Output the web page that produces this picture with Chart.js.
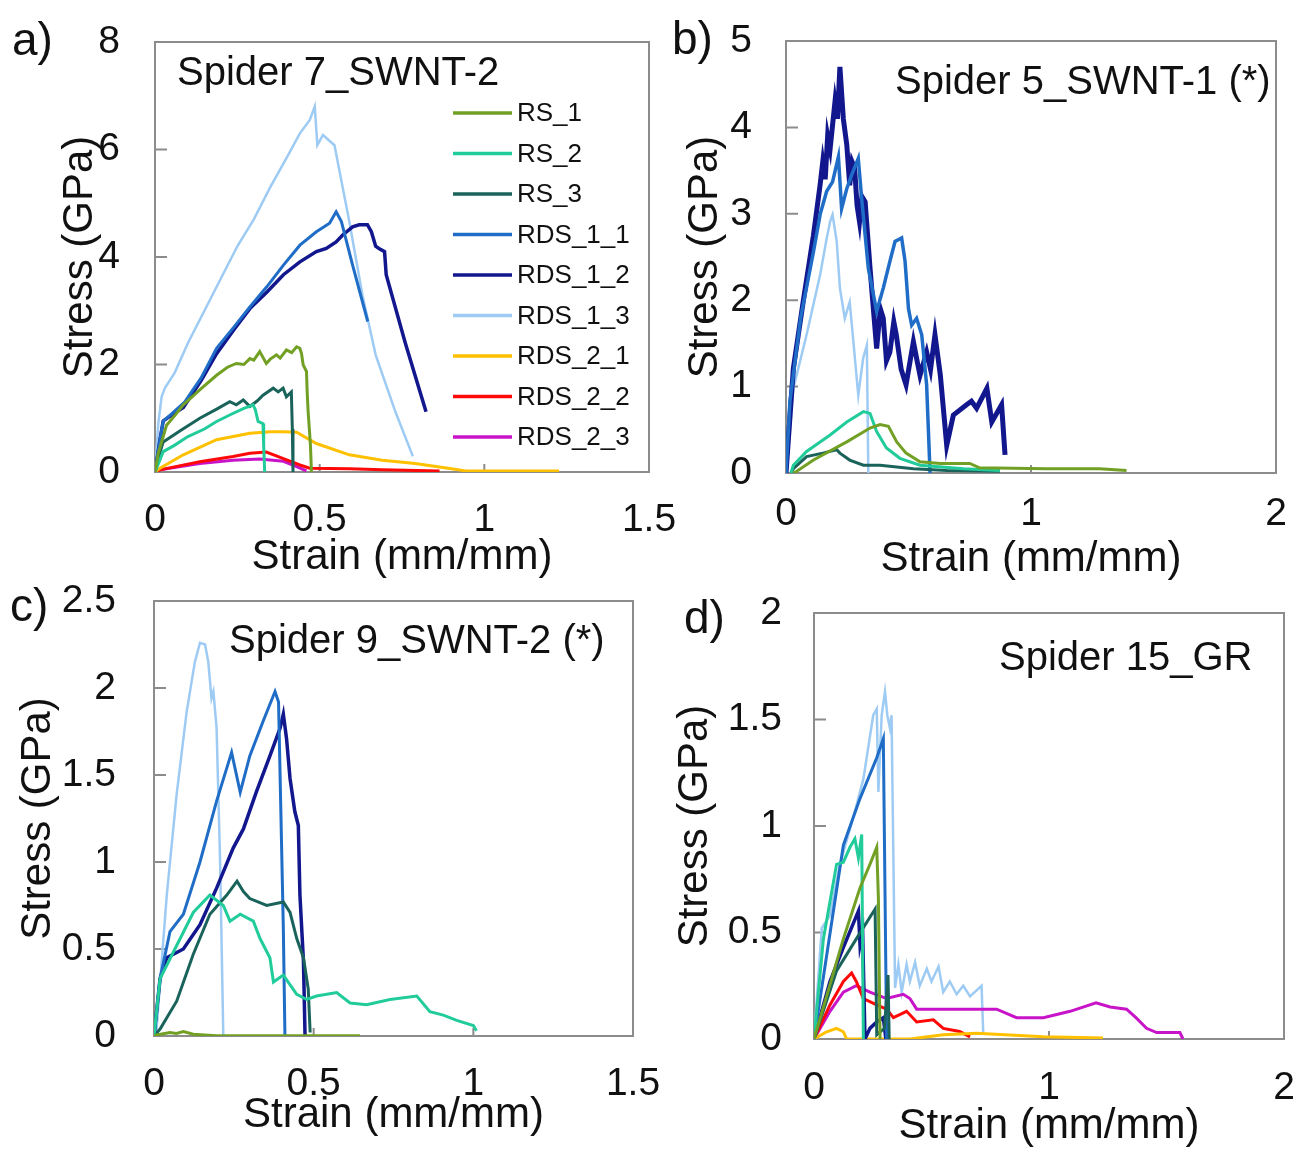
<html>
<head>
    <title>Stress-strain curves</title>
    <script src="https://cdn.jsdelivr.net/npm/chart.js"></script>
    <style>
        body { margin: 0; background: #fff; }
        #wrap { position: relative; width: 1300px; height: 1156px; overflow: hidden; }
        canvas { position: absolute; }
    </style>
</head>
<body>
<div id="wrap">
    <canvas id="pa" width="700" height="600" style="left:0;top:0"></canvas>
    <canvas id="pb" width="660" height="600" style="left:640px;top:0"></canvas>
    <canvas id="pc" width="700" height="586" style="left:0;top:570px"></canvas>
    <canvas id="pd" width="660" height="586" style="left:640px;top:570px"></canvas>
</div>
<script>
    // series names and colours (legend order)
    const names = ['RS_1', 'RS_2', 'RS_3', 'RDS_1_1', 'RDS_1_2', 'RDS_1_3', 'RDS_2_1', 'RDS_2_2', 'RDS_2_3'];
    const colors = {
        RS_1: '#72a024', RS_2: '#22cc9a', RS_3: '#1a635b',
        RDS_1_1: '#1f6dc6', RDS_1_2: '#12178e', RDS_1_3: '#9ecbf3',
        RDS_2_1: '#ffc000', RDS_2_2: '#ff0808', RDS_2_3: '#c814c8'
    };

    // axis ticks [min, max, step]
    const ticksA = { x: [0, 1.5, 0.5], y: [0, 8, 2] };
    const ticksB = { x: [0, 2, 1], y: [0, 5, 1] };
    const ticksC = { x: [0, 1.5, 0.5], y: [0, 2.5, 0.5] };
    const ticksD = { x: [0, 2, 1], y: [0, 2, 0.5] };

    // a) Spider 7_SWNT-2  [strain, stress]
    const a_RS_1 = [[0,0],[0.01,0.35],[0.035,0.87],[0.06,1.05],[0.086,1.25],[0.14,1.55],[0.187,1.8],[0.22,1.95],[0.247,2.02],[0.27,2.0],[0.288,2.11],[0.3,2.08],[0.318,2.24],[0.338,2.02],[0.35,2.1],[0.369,2.18],[0.38,2.12],[0.399,2.27],[0.415,2.22],[0.43,2.33],[0.44,2.3],[0.445,2.2],[0.45,1.99],[0.46,1.87],[0.462,1.5],[0.465,1.12],[0.472,0.5],[0.475,0]];
    const a_RS_2 = [[0,0],[0.01,0.15],[0.025,0.38],[0.06,0.5],[0.1,0.66],[0.15,0.8],[0.187,0.94],[0.23,1.07],[0.268,1.18],[0.298,1.25],[0.305,1.15],[0.313,0.94],[0.328,0.9],[0.33,0.5],[0.333,0]];
    const a_RS_3 = [[0,0],[0.012,0.3],[0.025,0.56],[0.08,0.78],[0.136,1.0],[0.19,1.18],[0.227,1.31],[0.247,1.25],[0.268,1.34],[0.288,1.22],[0.31,1.32],[0.328,1.43],[0.359,1.56],[0.374,1.49],[0.389,1.56],[0.399,1.4],[0.414,1.49],[0.417,0.8],[0.419,0]];
    const a_RDS_1_1 = [[0,0],[0.015,0.6],[0.025,0.95],[0.046,1.06],[0.09,1.3],[0.14,1.75],[0.187,2.3],[0.24,2.7],[0.288,3.07],[0.34,3.45],[0.39,3.85],[0.44,4.22],[0.49,4.47],[0.51,4.55],[0.53,4.63],[0.55,4.84],[0.566,4.66],[0.6,3.85],[0.646,2.8]];
    const a_RDS_1_2 = [[0,0],[0.015,0.6],[0.025,0.95],[0.046,1.04],[0.086,1.2],[0.14,1.7],[0.187,2.2],[0.24,2.65],[0.288,3.04],[0.34,3.35],[0.39,3.67],[0.44,3.91],[0.49,4.1],[0.52,4.16],[0.55,4.28],[0.57,4.41],[0.6,4.56],[0.62,4.6],[0.645,4.6],[0.657,4.47],[0.67,4.2],[0.68,4.16],[0.697,4.1],[0.702,3.67],[0.76,2.4],[0.823,1.12]];
    const a_RDS_1_3 = [[0,0],[0.01,0.9],[0.02,1.4],[0.03,1.56],[0.06,1.85],[0.1,2.4],[0.15,3.0],[0.2,3.6],[0.25,4.2],[0.3,4.7],[0.35,5.3],[0.4,5.85],[0.44,6.3],[0.47,6.55],[0.485,6.8],[0.493,6.08],[0.51,6.27],[0.545,6.08],[0.59,4.66],[0.63,3.29],[0.67,2.18],[0.73,1.12],[0.783,0.29]];
    const a_RDS_2_1 = [[0,0],[0.015,0.07],[0.086,0.32],[0.187,0.6],[0.288,0.72],[0.35,0.75],[0.39,0.75],[0.43,0.74],[0.49,0.53],[0.59,0.32],[0.69,0.22],[0.79,0.16],[0.89,0.07],[0.944,0.02],[1.1,0.02],[1.227,0.02]];
    const a_RDS_2_2 = [[0,0],[0.015,0.04],[0.136,0.19],[0.237,0.29],[0.288,0.35],[0.338,0.37],[0.39,0.25],[0.44,0.13],[0.47,0.07],[0.59,0.06],[0.69,0.04],[0.864,0.02]];
    const a_RDS_2_3 = [[0,0],[0.015,0.04],[0.136,0.16],[0.237,0.22],[0.318,0.24],[0.39,0.2],[0.43,0.1],[0.46,0.02]];

    // b) Spider 5_SWNT-1 (*)
    const b_RS_1 = [[0.03,0],[0.044,0.02],[0.112,0.15],[0.248,0.36],[0.343,0.52],[0.384,0.56],[0.418,0.54],[0.452,0.36],[0.49,0.23],[0.547,0.13],[0.63,0.11],[0.75,0.11],[0.79,0.06],[1.064,0.05],[1.28,0.05],[1.39,0.03]];
    const b_RS_2 = [[0.02,0],[0.03,0.09],[0.084,0.25],[0.18,0.44],[0.248,0.59],[0.316,0.71],[0.343,0.69],[0.37,0.48],[0.41,0.29],[0.465,0.17],[0.547,0.09],[0.724,0.05],[0.873,0.03]];
    const b_RS_3 = [[0.02,0],[0.03,0.05],[0.084,0.19],[0.15,0.23],[0.207,0.27],[0.22,0.23],[0.26,0.15],[0.316,0.09],[0.384,0.09],[0.52,0.05],[0.656,0.03],[0.873,0.02]];
    const b_RDS_1_1 = [[0,0],[0.016,0.83],[0.06,1.8],[0.112,2.56],[0.14,3.0],[0.166,3.26],[0.19,3.37],[0.214,3.66],[0.227,3.06],[0.248,3.29],[0.268,3.45],[0.295,3.64],[0.31,3.14],[0.336,2.37],[0.37,1.87],[0.397,2.14],[0.424,2.45],[0.445,2.68],[0.472,2.72],[0.486,2.45],[0.5,1.9],[0.513,1.71],[0.533,1.79],[0.554,1.6],[0.574,1.02],[0.588,0]];
    const b_RDS_1_2 = [[0,0],[0.03,1.21],[0.07,1.98],[0.112,2.75],[0.139,3.33],[0.15,3.6],[0.16,3.4],[0.17,3.9],[0.18,3.75],[0.2,4.3],[0.21,4.1],[0.22,4.7],[0.234,4.1],[0.248,3.8],[0.26,3.33],[0.27,3.6],[0.28,3.53],[0.29,3.1],[0.3,2.91],[0.31,3.2],[0.323,3.14],[0.343,2.37],[0.37,1.44],[0.385,1.9],[0.397,1.79],[0.41,1.3],[0.424,1.4],[0.44,1.75],[0.45,1.6],[0.47,1.2],[0.49,1.02],[0.52,1.52],[0.535,1.3],[0.547,1.13],[0.574,1.4],[0.59,1.2],[0.608,1.6],[0.63,1.13],[0.656,0.32],[0.683,0.67],[0.737,0.79],[0.757,0.83],[0.778,0.75],[0.82,0.98],[0.84,0.59],[0.88,0.79],[0.894,0.21]];
    const b_RDS_1_3 = [[0,0],[0.003,0.05],[0.03,0.98],[0.084,1.6],[0.139,2.29],[0.165,2.7],[0.18,2.91],[0.19,2.99],[0.207,2.68],[0.22,2.14],[0.24,1.79],[0.26,1.98],[0.275,1.52],[0.295,0.9],[0.315,1.33],[0.33,1.48],[0.336,0]];

    // c) Spider 9_SWNT-2 (*)
    const c_RS_1 = [[0,0],[0.008,0.006],[0.05,0.02],[0.07,0.015],[0.092,0.025],[0.123,0.01],[0.196,0.002],[0.645,0.002]];
    const c_RS_2 = [[0,0],[0.019,0.33],[0.071,0.52],[0.123,0.71],[0.175,0.81],[0.217,0.75],[0.238,0.66],[0.27,0.7],[0.311,0.66],[0.332,0.56],[0.363,0.45],[0.374,0.31],[0.405,0.35],[0.447,0.24],[0.478,0.21],[0.509,0.23],[0.572,0.25],[0.614,0.19],[0.666,0.18],[0.739,0.21],[0.823,0.23],[0.864,0.14],[0.906,0.12],[0.948,0.09],[1.0,0.06],[1.01,0.03]];
    const c_RS_3 = [[0,0],[0.019,0.04],[0.071,0.2],[0.123,0.47],[0.175,0.7],[0.228,0.81],[0.26,0.89],[0.28,0.83],[0.3,0.79],[0.353,0.75],[0.405,0.77],[0.426,0.71],[0.447,0.56],[0.468,0.45],[0.483,0.27],[0.489,0.02]];
    const c_RDS_1_1 = [[0,0],[0.019,0.33],[0.05,0.6],[0.092,0.7],[0.144,1.0],[0.196,1.35],[0.243,1.63],[0.27,1.4],[0.3,1.61],[0.342,1.81],[0.379,1.98],[0.39,1.92],[0.405,0.62],[0.41,0]];
    const c_RDS_1_2 = [[0,0],[0.019,0.33],[0.04,0.45],[0.092,0.5],[0.144,0.64],[0.196,0.85],[0.248,1.08],[0.28,1.19],[0.32,1.4],[0.363,1.61],[0.395,1.77],[0.405,1.85],[0.415,1.71],[0.426,1.48],[0.441,1.29],[0.452,1.21],[0.457,0.81],[0.468,0.43],[0.473,0]];
    const c_RDS_1_3 = [[0,0],[0.008,0.04],[0.04,0.81],[0.071,1.39],[0.102,1.86],[0.128,2.15],[0.144,2.26],[0.16,2.25],[0.17,2.15],[0.18,1.94],[0.186,1.98],[0.196,1.77],[0.207,1.0],[0.217,0]];

    // d) Spider 15_GR
    const d_RS_1 = [[0,0],[0.125,0.47],[0.196,0.71],[0.238,0.82],[0.267,0.9],[0.274,0.66],[0.281,0]];
    const d_RS_2 = [[0,0],[0.04,0.47],[0.096,0.82],[0.125,0.83],[0.153,0.9],[0.174,0.94],[0.189,0.85],[0.203,0.96],[0.21,0]];
    const d_RS_3 = [[0,0],[0.096,0.32],[0.18,0.47],[0.26,0.61],[0.267,0.02],[0.3,0.05],[0.315,0.3],[0.32,0]];
    const d_RDS_1_1 = [[0,0],[0.125,0.91],[0.196,1.13],[0.267,1.32],[0.295,1.41],[0.309,0]];
    const d_RDS_1_2 = [[0,0],[0.068,0.27],[0.125,0.43],[0.189,0.6],[0.196,0.44],[0.207,0.5],[0.217,0],[0.238,0.05],[0.267,0.08],[0.295,0.1],[0.306,0]];
    const d_RDS_1_3 = [[0,0],[0.033,0.52],[0.068,0.58],[0.11,0.82],[0.167,1.04],[0.21,1.22],[0.252,1.52],[0.267,1.55],[0.274,1.16],[0.288,1.52],[0.302,1.63],[0.312,1.52],[0.323,1.46],[0.33,1.52],[0.338,0.83],[0.345,0.24],[0.359,0.35],[0.373,0.22],[0.394,0.35],[0.408,0.27],[0.43,0.36],[0.45,0.25],[0.48,0.33],[0.5,0.27],[0.53,0.34],[0.55,0.22],[0.578,0.27],[0.607,0.21],[0.635,0.25],[0.664,0.2],[0.713,0.25],[0.72,0.03]];
    const d_RDS_2_1 = [[0,0],[0.054,0.034],[0.096,0.05],[0.125,0.034],[0.139,0],[0.408,0],[0.55,0.02],[0.692,0.027],[0.976,0.01],[1.23,0.005]];
    const d_RDS_2_2 = [[0,0],[0.068,0.16],[0.125,0.27],[0.16,0.31],[0.18,0.27],[0.21,0.19],[0.267,0.16],[0.309,0.14],[0.338,0.1],[0.394,0.13],[0.437,0.08],[0.508,0.09],[0.55,0.05],[0.62,0.035],[0.664,0.01]];
    const d_RDS_2_3 = [[0,0],[0.068,0.13],[0.125,0.22],[0.18,0.25],[0.238,0.22],[0.309,0.19],[0.38,0.21],[0.408,0.19],[0.437,0.14],[0.55,0.14],[0.692,0.14],[0.777,0.14],[0.862,0.1],[0.976,0.1],[1.09,0.13],[1.2,0.17],[1.26,0.15],[1.33,0.14],[1.37,0.1],[1.415,0.05],[1.458,0.03],[1.557,0.03],[1.57,0]];

    const seriesA = { RS_1: a_RS_1, RS_2: a_RS_2, RS_3: a_RS_3, RDS_1_1: a_RDS_1_1, RDS_1_2: a_RDS_1_2, RDS_1_3: a_RDS_1_3, RDS_2_1: a_RDS_2_1, RDS_2_2: a_RDS_2_2, RDS_2_3: a_RDS_2_3 };
    const seriesB = { RS_1: b_RS_1, RS_2: b_RS_2, RS_3: b_RS_3, RDS_1_1: b_RDS_1_1, RDS_1_2: b_RDS_1_2, RDS_1_3: b_RDS_1_3 };
    const seriesC = { RS_1: c_RS_1, RS_2: c_RS_2, RS_3: c_RS_3, RDS_1_1: c_RDS_1_1, RDS_1_2: c_RDS_1_2, RDS_1_3: c_RDS_1_3 };
    const seriesD = { RS_1: d_RS_1, RS_2: d_RS_2, RS_3: d_RS_3, RDS_1_1: d_RDS_1_1, RDS_1_2: d_RDS_1_2, RDS_1_3: d_RDS_1_3, RDS_2_1: d_RDS_2_1, RDS_2_2: d_RDS_2_2, RDS_2_3: d_RDS_2_3 };
</script>
<script>
    const FONT = '"Liberation Sans", Arial, sans-serif';
    Chart.defaults.font.family = FONT;
    Chart.defaults.color = '#111';

    // frame, inner ticks, panel letter, note and legend
    const panelDecor = {
        id: 'panelDecor',
        beforeDatasetsDraw(chart) {
            const { ctx, chartArea: ca, scales: { x, y } } = chart;
            ctx.save();
            ctx.strokeStyle = '#8c8c8c';
            ctx.lineWidth = 2;
            ctx.strokeRect(ca.left, ca.top, ca.right - ca.left, ca.bottom - ca.top);
            ctx.beginPath();
            y.ticks.forEach(t => {
                const py = y.getPixelForValue(t.value);
                ctx.moveTo(ca.left, py);
                ctx.lineTo(ca.left + 12, py);
            });
            x.ticks.forEach(t => {
                const px = x.getPixelForValue(t.value);
                ctx.moveTo(px, ca.bottom);
                ctx.lineTo(px, ca.bottom - 8);
            });
            ctx.stroke();
            ctx.restore();
        },
        afterDraw(chart, args, o) {
            const ctx = chart.ctx;
            ctx.save();
            ctx.fillStyle = '#111';
            ctx.textAlign = 'left';
            ctx.textBaseline = 'middle';
            ctx.font = '46px ' + FONT;
            ctx.fillText(o.letter, o.lx, o.ly);
            ctx.textBaseline = 'alphabetic';
            ctx.font = '40px ' + FONT;
            ctx.fillText(o.note, o.nx, o.ny);
            if (o.legend) {
                const L = o.legend;
                ctx.font = '26px ' + FONT;
                ctx.textBaseline = 'middle';
                chart.data.datasets.forEach((ds, i) => {
                    const yy = L.y + i * L.gap;
                    ctx.strokeStyle = ds.borderColor;
                    ctx.lineWidth = 3.5;
                    ctx.beginPath();
                    ctx.moveTo(L.x, yy);
                    ctx.lineTo(L.x + L.len, yy);
                    ctx.stroke();
                    ctx.fillText(ds.label, L.x + L.len + 5, yy + 1);
                });
            }
            ctx.restore();
        }
    };

    function makeChart(id, series, ticks, g, deco, widths) {
        const datasets = names.filter(n => series[n]).map(n => ({
            label: n,
            data: series[n],
            borderColor: colors[n],
            backgroundColor: colors[n],
            borderWidth: (widths && widths[n]) || (n === 'RDS_1_3' ? 2.5 : 3),
            pointRadius: 0,
            tension: 0,
            fill: false,
            order: n === 'RDS_1_3' ? 1 : 0
        }));
        return new Chart(document.getElementById(id), {
            type: 'line',
            data: { datasets: datasets },
            plugins: [panelDecor],
            options: {
                responsive: false,
                animation: false,
                events: [],
                layout: { padding: { left: 0, top: g.top, right: g.right, bottom: 0 } },
                plugins: {
                    legend: { display: false },
                    tooltip: { enabled: false },
                    panelDecor: deco
                },
                scales: {
                    x: {
                        type: 'linear',
                        min: ticks.x[0], max: ticks.x[1],
                        grid: { display: false, drawTicks: false },
                        border: { display: false },
                        ticks: { stepSize: ticks.x[2], font: { size: 39 }, padding: g.xtp, maxRotation: 0,
                                 callback: v => String(v) },
                        title: { display: true, text: 'Strain (mm/mm)', font: { size: 42 }, padding: { top: 0, bottom: g.xtt } },
                        afterFit(s) { s.height = g.xh; s.paddingLeft = 0; s.paddingRight = 0; }
                    },
                    y: {
                        min: ticks.y[0], max: ticks.y[1],
                        grid: { display: false, drawTicks: false },
                        border: { display: false },
                        ticks: { stepSize: ticks.y[2], font: { size: 39 }, padding: g.ytp,
                                 callback: v => String(v) },
                        title: { display: true, text: 'Stress (GPa)', font: { size: 42 }, padding: { top: g.ytt, bottom: 0 } },
                        afterFit(s) { s.width = g.yw; s.paddingTop = 0; s.paddingBottom = 0; }
                    }
                }
            }
        });
    }

    makeChart('pa', seriesA, ticksA,
        { top: 42, right: 51, yw: 155, xh: 128, xtp: 25, ytp: 35, xtt: 17, ytt: 55 },
        { letter: 'a)', lx: 12, ly: 42, note: 'Spider 7_SWNT-2', nx: 177, ny: 85,
          legend: { x: 453, y: 113, gap: 40.5, len: 59 } },
        { RDS_1_2: 3.5 });
    makeChart('pb', seriesB, ticksB,
        { top: 41, right: 24, yw: 146, xh: 127, xtp: 18, ytp: 34, xtt: 15, ytt: 40 },
        { letter: 'b)', lx: 32, ly: 41, note: 'Spider 5_SWNT-1 (*)', nx: 255, ny: 94 },
        { RDS_1_2: 5, RDS_1_1: 3.5 });
    makeChart('pc', seriesC, ticksC,
        { top: 31, right: 67, yw: 154, xh: 120, xtp: 25, ytp: 38, xtt: 15, ytt: 13 },
        { letter: 'c)', lx: 10, ly: 38, note: 'Spider 9_SWNT-2 (*)', nx: 229, ny: 83 },
        { RDS_1_2: 3.5 });
    makeChart('pd', seriesD, ticksD,
        { top: 43, right: 16, yw: 174, xh: 117, xtp: 26, ytp: 32, xtt: 4, ytt: 30 },
        { letter: 'd)', lx: 44, ly: 50, note: 'Spider 15_GR', nx: 359, ny: 100 },
        { RDS_1_2: 3.5 });
</script>
</body>
</html>
